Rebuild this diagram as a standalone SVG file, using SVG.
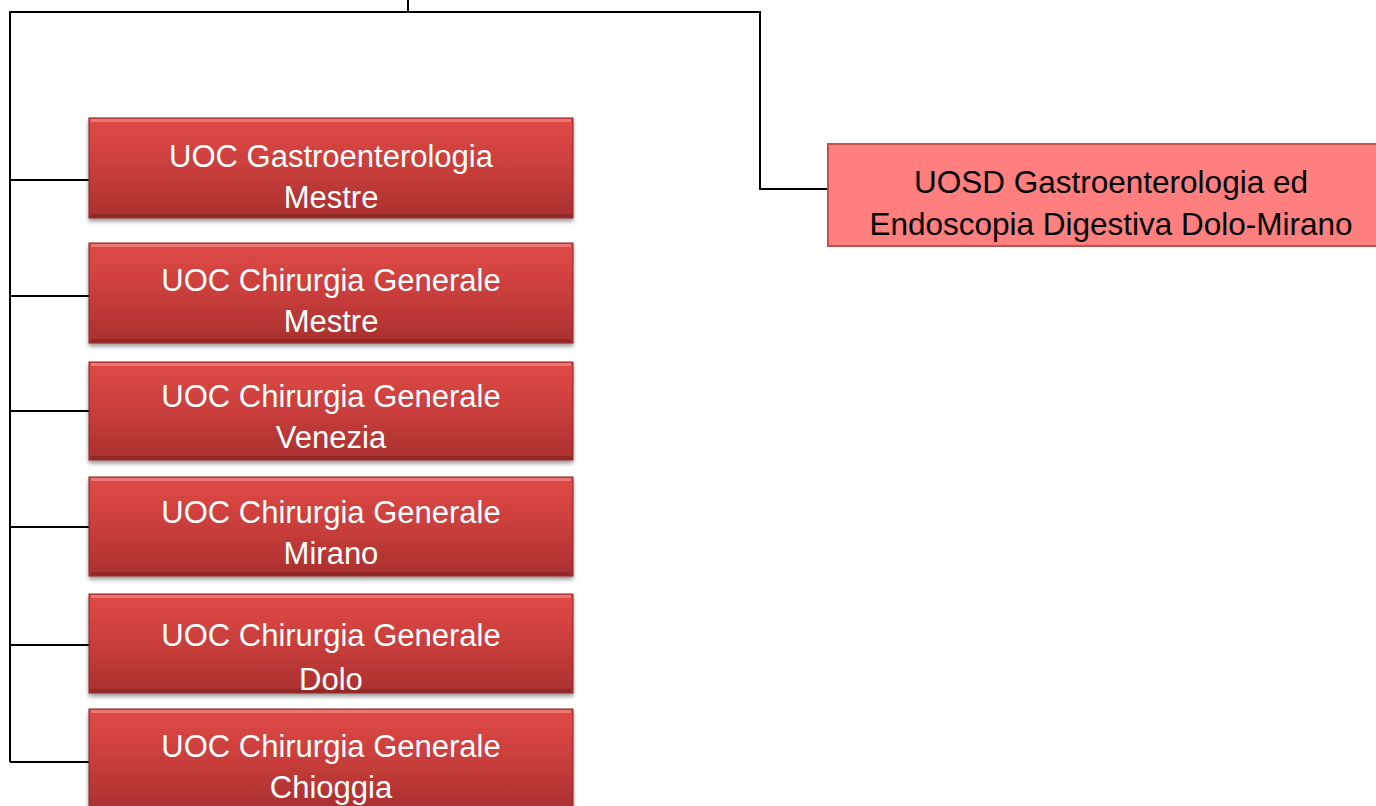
<svg xmlns="http://www.w3.org/2000/svg" width="1376" height="806" viewBox="0 0 1376 806">
<style>
.conn{fill:none;stroke:#000;stroke-width:2}
.box{fill:url(#redGrad);stroke:#8a2424;stroke-width:1;filter:url(#shadow)}
.hl{fill:none;stroke:#f28a86;stroke-width:3;opacity:0.7}
.dk{fill:none;stroke:#7e2020;stroke-width:3;opacity:0.55}
.lbl{font-family:"Liberation Sans",Arial,sans-serif;font-size:31px;fill:#fff;text-anchor:middle}
.lbl2{font-family:"Liberation Sans",Arial,sans-serif;font-size:31.5px;fill:#000;text-anchor:middle}
.pink{fill:#ff7f7f;stroke:#c0504d;stroke-width:2}
</style>
<defs>
<linearGradient id="redGrad" x1="0" y1="0" x2="0" y2="1">
<stop offset="0" stop-color="#e04a47"/>
<stop offset="0.5" stop-color="#c93e3c"/>
<stop offset="1" stop-color="#a9302f"/>
</linearGradient>
<filter id="shadow" x="-5%" y="-10%" width="110%" height="130%">
<feGaussianBlur in="SourceAlpha" stdDeviation="2"/>
<feOffset dx="0" dy="3" result="b"/>
<feComponentTransfer><feFuncA type="linear" slope="0.4"/></feComponentTransfer>
<feMerge><feMergeNode/><feMergeNode in="SourceGraphic"/></feMerge>
</filter>
</defs>
<rect width="1376" height="806" fill="#fff"/>
<g id="connectors">
<path class="conn" d="M408,0 V12"/>
<path class="conn" d="M9,12 H760 V189 H828"/>
<path class="conn" d="M10,12 V762"/>
<path class="conn" d="M10,180 H89"/>
<path class="conn" d="M10,296 H89"/>
<path class="conn" d="M10,411 H89"/>
<path class="conn" d="M10,527 H89"/>
<path class="conn" d="M10,645 H89"/>
<path class="conn" d="M10,762 H89"/>
</g>
<g id="n1">
<rect class="box" x="89" y="118" width="484" height="100"/>
<path class="hl" d="M91,120.5 H571"/>
<path class="dk" d="M91,215.5 H571"/>
<text class="lbl" x="331" y="167">UOC Gastroenterologia</text>
<text class="lbl" x="331" y="208">Mestre</text>
</g>
<g id="n2">
<rect class="box" x="89" y="243" width="484" height="100"/>
<path class="hl" d="M91,245.5 H571"/>
<path class="dk" d="M91,340.5 H571"/>
<text class="lbl" x="331" y="291">UOC Chirurgia Generale</text>
<text class="lbl" x="331" y="332">Mestre</text>
</g>
<g id="n3">
<rect class="box" x="89" y="362" width="484" height="98"/>
<path class="hl" d="M91,364.5 H571"/>
<path class="dk" d="M91,457.5 H571"/>
<text class="lbl" x="331" y="407">UOC Chirurgia Generale</text>
<text class="lbl" x="331" y="448">Venezia</text>
</g>
<g id="n4">
<rect class="box" x="89" y="477" width="484" height="99"/>
<path class="hl" d="M91,479.5 H571"/>
<path class="dk" d="M91,573.5 H571"/>
<text class="lbl" x="331" y="523">UOC Chirurgia Generale</text>
<text class="lbl" x="331" y="564">Mirano</text>
</g>
<g id="n5">
<rect class="box" x="89" y="594" width="484" height="99"/>
<path class="hl" d="M91,596.5 H571"/>
<path class="dk" d="M91,690.5 H571"/>
<text class="lbl" x="331" y="646">UOC Chirurgia Generale</text>
<text class="lbl" x="331" y="690">Dolo</text>
</g>
<g id="n6">
<rect class="box" x="89" y="709" width="484" height="100"/>
<path class="hl" d="M91,711.5 H571"/>
<text class="lbl" x="331" y="757">UOC Chirurgia Generale</text>
<text class="lbl" x="331" y="798">Chioggia</text>
</g>
<g id="n7">
<rect class="pink" x="828" y="144" width="550" height="102"/>
<text class="lbl2" x="1111" y="193">UOSD Gastroenterologia ed</text>
<text class="lbl2" x="1111" y="235">Endoscopia Digestiva Dolo-Mirano</text>
</g>
</svg>
